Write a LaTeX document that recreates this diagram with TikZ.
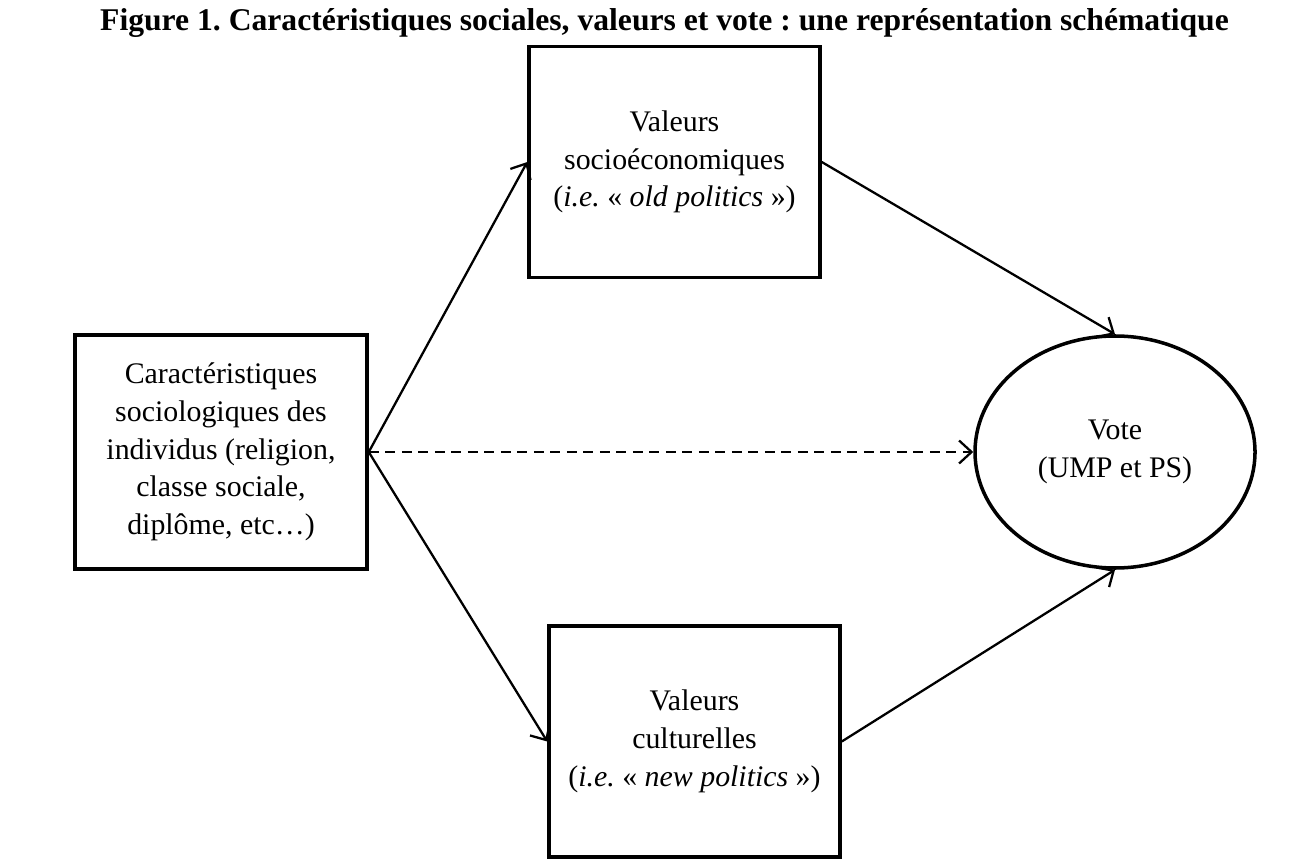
\documentclass[tikz,border=0pt]{standalone}
\usepackage{fontspec}
\setmainfont{Liberation Serif}
\usetikzlibrary{arrows.meta,shapes.geometric}

\tikzset{
  valbox/.style={draw,line width=2pt,align=center,minimum width=5.82cm,minimum height=4.62cm,inner sep=0pt},
  link/.style={line width=1.3pt,-{Straight Barb[length=2.5mm,width=4.6mm]}}
}

\begin{document}
\frenchspacing
\begin{tikzpicture}[font=\fontsize{17}{21.5}\selectfont]
        \useasboundingbox (0,0) rectangle (26.28,-17.36);

        % Title
        \node[font=\fontsize{18}{21}\selectfont\bfseries] (title) at (13.29,-0.46) {Figure 1. Caractéristiques sociales, valeurs et vote : une représentation schématique};

        % Boxes
        \node[valbox,minimum width=5.84cm,minimum height=4.68cm] (carac) at (4.42,-9.04) {Caractéristiques\\sociologiques des\\individus (religion,\\classe sociale,\\diplôme, etc\dots)};
        \node[valbox] (socio) at (13.49,-3.24) {Valeurs\\socioéconomiques\\(\textit{i.e.} « \textit{old politics} »)};
        \node[valbox] (cult) at (13.89,-14.83) {Valeurs\\culturelles\\(\textit{i.e.} « \textit{new politics} »)};

        % Vote
        \node[draw,ellipse,line width=2pt,align=center,minimum width=5.6cm,minimum height=4.64cm,inner sep=0pt] (vote) at (22.3,-9.04) {Vote\\(UMP et PS)};

        % Arrows
        \draw[link] (carac.east) -- (socio.west);
        \draw[link] (carac.east) -- (cult.west);
        \draw[link,dash pattern=on 0.2cm off 0.13cm] (carac.east) -- (vote.west);
        \draw[link] (socio.east) -- (vote.north);
        \draw[link] (cult.east) -- (vote.south);
    \end{tikzpicture}
\end{document}
